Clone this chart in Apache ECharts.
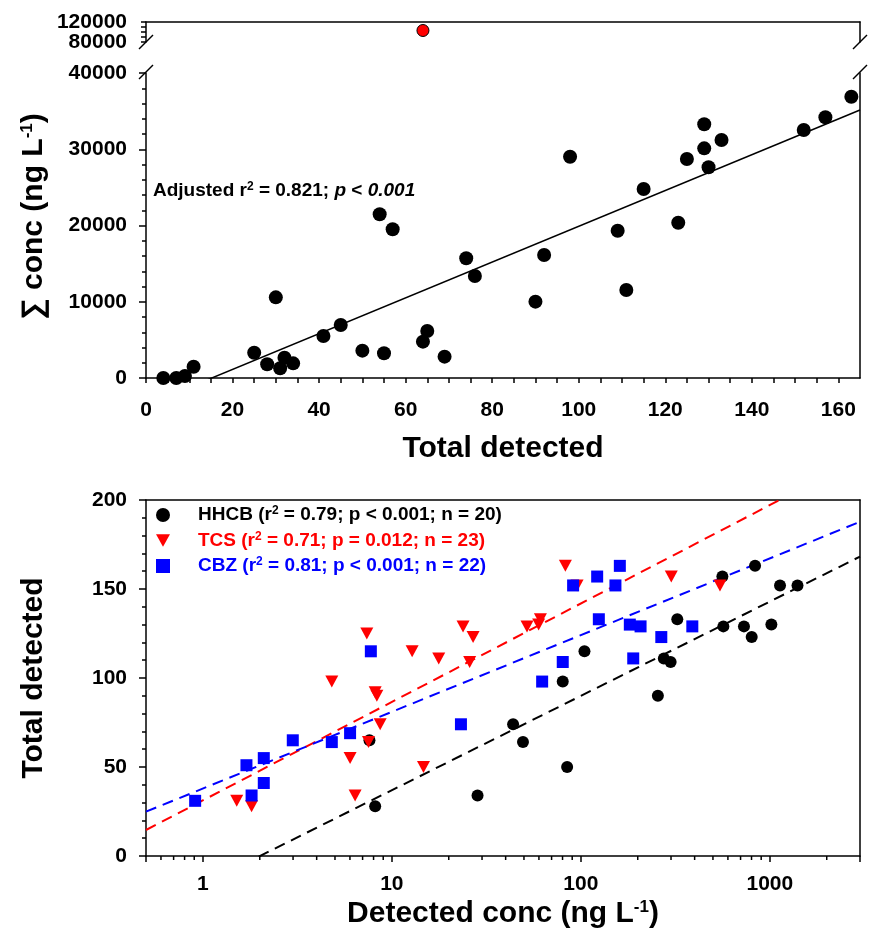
<!DOCTYPE html>
<html><head><meta charset="utf-8">
<script src="https://cdn.jsdelivr.net/npm/echarts@6/dist/echarts.min.js"></script>
<style>html,body{margin:0;padding:0;background:#fff}#c{width:882px;height:939px}</style>
</head><body><div id="c"></div>
<script>
// ---------- top panel: Total detected vs Sum conc ----------
const topX = [4,7,9,11,25,28,31,32,34,30,41,45,50,54,55,57,64,65,69,74,76,90,92,98,109,111,115,123,125,129,129,130,133,152,157,163];
const topY = [0,0,260,1480,3320,1800,1270,2660,1920,10580,5510,6950,3590,21470,3240,19500,4770,6160,2800,15700,13380,10010,16130,29020,19320,11540,24790,20370,28720,33270,30120,27630,31210,32520,34190,36890];
const outlierX = [64];
const outlierY = [103000];
const topFit = [234.6, -3567]; // slope, intercept
const topXTicks = [0, 165, 5];      // min, max, step
const topYTicks = [0, 40000, 10000];
const upperYTicks = [80000, 120000, 10000];

// ---------- bottom panel: Detected conc vs Total detected ----------
const seriesNames = ['HHCB', 'TCS', 'CBZ'];
const seriesR2 = ['0.79', '0.71', '0.81'];
const seriesP = ['< 0.001', '= 0.012', '< 0.001'];
const seriesN = [20, 23, 22];
const hhcbX = [7.61,8.16,28.4,43.8,49.4,84.6,80.2,104.5,255.6,274.9,298.5,323.8,560.9,567.6,729.6,801.9,835.2,1019,1132,1401];
const hhcbY = [65,28,34,74,64,50,98,115,90,111,109,133,157,129,129,123,163,130,152,152];
const tcsX = [1.51,1.81,4.81,6.01,6.39,7.37,7.52,8.16,8.33,8.67,12.8,14.7,17.7,23.8,26.9,25.8,51.9,61.1,59.8,82.8,95.5,300.9,544.7];
const tcsY = [31,28,98,55,34,125,64,92,90,74,115,50,111,129,123,109,129,133,130,163,152,157,152];
const cbzX = [0.91,1.70,1.81,2.10,2.10,2.99,4.81,6.01,7.74,23.2,62.4,80.2,91.0,122,124.5,152.4,160.8,181.6,189.3,207,266.5,388.9];
const cbzY = [31,51,34,55,41,65,64,69,115,74,98,109,152,157,133,152,163,130,111,129,123,129];
const hhcbFit = [52.98, -16.0]; // slope per log10 decade, intercept
const tcsFit = [55.3, 31.25];
const cbzFit = [43.1, 37.9];
const logXRange = [0.5, 3000];
const bottomYTicks = [0, 200, 50];
const logMinorTicks = [0.6,0.7,0.8,0.9,2,3,4,5,6,7,8,9,20,30,40,50,60,70,80,90,200,300,400,500,600,700,800,900,2000];
const seriesColors = ['#000000', '#ff0000', '#0000ff'];

// ---------- layout ----------
const FONT = "'Liberation Sans', Arial, sans-serif";
const GL = 146, GW = 714;
const upperG = {top: 22, height: 20};
const mainG = {top: 73, height: 305};
const lowG = {top: 500, height: 356};
const ALS = {color: '#000', width: 1.5};
const lab = {fontFamily: FONT, fontWeight: 'bold', fontSize: 21, color: '#000', hideOverlap: false};
const nameRich = {
  t: {fontFamily: FONT, fontWeight: 'bold', fontSize: 30, color: '#000'},
  u: {fontFamily: FONT, fontWeight: 'bold', fontSize: 17, color: '#000', verticalAlign: 'top'}
};
const zip = (a, b) => a.map((v, i) => [v, b[i]]);
const fitLine = f => logXRange.map(x => [x, f[0] * Math.log10(x) + f[1]]);
const grid = g => ({left: GL, width: GW, top: g.top, height: g.height, outerBoundsMode: 'none', containLabel: false});
const lineOnlyAxis = extra => Object.assign({
  axisLine: {show: true, onZero: false, lineStyle: ALS}, axisTick: {show: false},
  axisLabel: {show: false}, splitLine: {show: false}
}, extra);

const legendRich = {sp: {width: 23}};
seriesColors.forEach((c, i) => {
  legendRich['k' + i] = {fontFamily: FONT, fontWeight: 'bold', fontSize: 19, color: c, lineHeight: 20};
  legendRich['s' + i] = {fontFamily: FONT, fontWeight: 'bold', fontSize: 12, color: c, verticalAlign: 'top', lineHeight: 20};
});

const chart = echarts.init(document.getElementById('c'), null, {renderer: 'canvas'});
const option = {
  backgroundColor: '#fff',
  animation: false,
  grid: [grid(upperG), grid(mainG), grid(lowG)],
  xAxis: [
    lineOnlyAxis({gridIndex: 0, type: 'value', position: 'top', min: topXTicks[0], max: topXTicks[1]}),
    {gridIndex: 1, type: 'value', min: topXTicks[0], max: topXTicks[1], interval: topXTicks[2],
     axisLine: {show: true, onZero: false, lineStyle: ALS},
     axisTick: {show: true, length: 5, lineStyle: ALS},
     axisLabel: Object.assign({}, lab, {margin: 22, showMaxLabel: false, formatter: v => (v % 20 === 0 ? String(v) : '')}),
     splitLine: {show: false},
     name: '{t|Total detected}', nameLocation: 'middle', nameGap: 56, nameMoveOverlap: false,
     nameTextStyle: {rich: nameRich}},
    {gridIndex: 2, type: 'log', logBase: 10, min: logXRange[0], max: logXRange[1],
     axisLine: {show: true, onZero: false, lineStyle: ALS},
     axisTick: {show: true, length: 6, lineStyle: ALS},
     axisLabel: Object.assign({}, lab, {margin: 18, formatter: v => {
        const l = Math.log10(v); return Math.abs(l - Math.round(l)) < 1e-6 ? String(Math.round(v)) : ''; }}),
     splitLine: {show: false},
     name: '{t|Detected conc (ng L}{u|-1}{t|)}', nameLocation: 'middle', nameGap: 43, nameMoveOverlap: false,
     nameTextStyle: {rich: nameRich}},
    lineOnlyAxis({gridIndex: 2, type: 'log', position: 'top', min: logXRange[0], max: logXRange[1]})
  ],
  yAxis: [
    {gridIndex: 0, type: 'value', min: upperYTicks[0], max: upperYTicks[1], interval: upperYTicks[2],
     axisLine: {show: true, onZero: false, lineStyle: ALS},
     axisTick: {show: true, length: 5, lineStyle: ALS},
     axisLabel: Object.assign({}, lab, {margin: 19, showMinLabel: true, showMaxLabel: true,
       formatter: v => (v === upperYTicks[0] || v === upperYTicks[1] ? String(v) : '')}),
     splitLine: {show: false}},
    lineOnlyAxis({gridIndex: 0, type: 'value', position: 'right', min: upperYTicks[0], max: upperYTicks[1]}),
    {gridIndex: 1, type: 'value', min: topYTicks[0], max: topYTicks[1], interval: topYTicks[2],
     axisLine: {show: true, onZero: false, lineStyle: ALS},
     axisTick: {show: true, length: 7, lineStyle: ALS},
     minorTick: {show: true, splitNumber: 5, length: 4, lineStyle: ALS},
     axisLabel: Object.assign({}, lab, {margin: 19, formatter: v => String(v)}),
     splitLine: {show: false},
     name: '{t|\u2211 conc (ng L}{u|-1}{t|)}', nameLocation: 'middle', nameGap: 97, nameMoveOverlap: false,
     nameTextStyle: {rich: nameRich, padding: [0, 0, 0, 18]}},
    lineOnlyAxis({gridIndex: 1, type: 'value', position: 'right', min: topYTicks[0], max: topYTicks[1]}),
    {gridIndex: 2, type: 'value', min: bottomYTicks[0], max: bottomYTicks[1], interval: bottomYTicks[2],
     axisLine: {show: true, onZero: false, lineStyle: ALS},
     axisTick: {show: true, length: 7, lineStyle: ALS},
     minorTick: {show: true, splitNumber: 5, length: 4, lineStyle: ALS},
     axisLabel: Object.assign({}, lab, {margin: 19}),
     splitLine: {show: false},
     name: '{t|Total detected}', nameLocation: 'middle', nameGap: 97, nameMoveOverlap: false,
     nameTextStyle: {rich: nameRich}},
    lineOnlyAxis({gridIndex: 2, type: 'value', position: 'right', min: bottomYTicks[0], max: bottomYTicks[1]})
  ],
  legend: {
    data: seriesNames, orient: 'vertical', left: 151, top: 500, itemWidth: 14, itemHeight: 14, itemGap: 6,
    selectedMode: false,
    formatter: name => {
      const i = seriesNames.indexOf(name);
      return '{sp| }{k' + i + '|' + name + ' (r}{s' + i + '|2}{k' + i + '| = ' + seriesR2[i] + '; p ' + seriesP[i] + '; n = ' + seriesN[i] + ')}';
    },
    textStyle: {rich: legendRich}
  },
  graphic: [
    {type: 'text', left: 153, top: 181, silent: true, style: {
      text: '{a|Adjusted r}{s|2}{a| = 0.821; }{i|p}{a| < }{i|0.001}',
      rich: {
        a: {fontFamily: FONT, fontWeight: 'bold', fontSize: 19, fill: '#000', lineHeight: 20},
        s: {fontFamily: FONT, fontWeight: 'bold', fontSize: 12, fill: '#000', verticalAlign: 'top', lineHeight: 20},
        i: {fontFamily: FONT, fontWeight: 'bold', fontStyle: 'italic', fontSize: 19, fill: '#000', lineHeight: 20}
      }}},
    // axis break marks
    {type: 'line', silent: true, shape: {x1: GL - 7, y1: upperG.top + upperG.height + 7, x2: GL + 7, y2: upperG.top + upperG.height - 7}, style: {stroke: '#000', lineWidth: 1.5}},
    {type: 'line', silent: true, shape: {x1: GL - 7, y1: mainG.top + 6, x2: GL + 7, y2: mainG.top - 8}, style: {stroke: '#000', lineWidth: 1.5}},
    {type: 'line', silent: true, shape: {x1: GL + GW - 7, y1: upperG.top + upperG.height + 7, x2: GL + GW + 7, y2: upperG.top + upperG.height - 7}, style: {stroke: '#000', lineWidth: 1.5}},
    {type: 'line', silent: true, shape: {x1: GL + GW - 7, y1: mainG.top + 6, x2: GL + GW + 7, y2: mainG.top - 8}, style: {stroke: '#000', lineWidth: 1.5}}
  ],
  series: [
    {type: 'line', xAxisIndex: 1, yAxisIndex: 2, data: [topXTicks[0], topXTicks[1]].map(x => [x, topFit[0] * x + topFit[1]]),
     showSymbol: false, symbol: 'none', clip: true, lineStyle: {color: '#000', width: 1.5}, z: 1, silent: true},
    {type: 'scatter', name: 'sum', xAxisIndex: 1, yAxisIndex: 2, data: zip(topX, topY), symbol: 'circle', symbolSize: 14,
     itemStyle: {color: '#000', opacity: 1}, z: 3},
    {type: 'scatter', name: 'outlier', xAxisIndex: 0, yAxisIndex: 0, data: zip(outlierX, outlierY), symbol: 'circle', symbolSize: 12,
     itemStyle: {color: '#ff0000', borderColor: '#000', borderWidth: 1, opacity: 1}, clip: false, z: 3},
    {type: 'line', xAxisIndex: 2, yAxisIndex: 4, data: fitLine(hhcbFit), showSymbol: false, symbol: 'none', clip: true,
     lineStyle: {color: '#000', width: 2, type: [11, 7]}, z: 1, silent: true},
    {type: 'line', xAxisIndex: 2, yAxisIndex: 4, data: fitLine(tcsFit), showSymbol: false, symbol: 'none', clip: true,
     lineStyle: {color: '#ff0000', width: 2, type: [11, 7]}, z: 1, silent: true},
    {type: 'line', xAxisIndex: 2, yAxisIndex: 4, data: fitLine(cbzFit), showSymbol: false, symbol: 'none', clip: true,
     lineStyle: {color: '#0000ff', width: 2, type: [11, 7]}, z: 1, silent: true},
    {type: 'scatter', name: 'HHCB', xAxisIndex: 2, yAxisIndex: 4, data: zip(hhcbX, hhcbY), symbol: 'circle', symbolSize: 12,
     itemStyle: {color: seriesColors[0], opacity: 1}, z: 3},
    {type: 'scatter', name: 'TCS', xAxisIndex: 2, yAxisIndex: 4, data: zip(tcsX, tcsY), symbol: 'path://M0,0 L10,0 L5,9 Z', symbolSize: [13, 12],
     itemStyle: {color: seriesColors[1], opacity: 1}, z: 3},
    {type: 'scatter', name: 'CBZ', xAxisIndex: 2, yAxisIndex: 4, data: zip(cbzX, cbzY), symbol: 'rect', symbolSize: 12,
     itemStyle: {color: seriesColors[2], opacity: 1}, z: 3},
    {type: 'custom', xAxisIndex: 2, yAxisIndex: 4, silent: true, clip: false, data: logMinorTicks.map(v => [v, bottomYTicks[0]]),
     renderItem: (params, api) => {
       const p = api.coord([api.value(0), api.value(1)]);
       return {type: 'line', shape: {x1: p[0], y1: p[1], x2: p[0], y2: p[1] + 4}, style: {stroke: '#000', lineWidth: 1.5}};
     }}
  ]
};
chart.setOption(option);
</script>
</body></html>
